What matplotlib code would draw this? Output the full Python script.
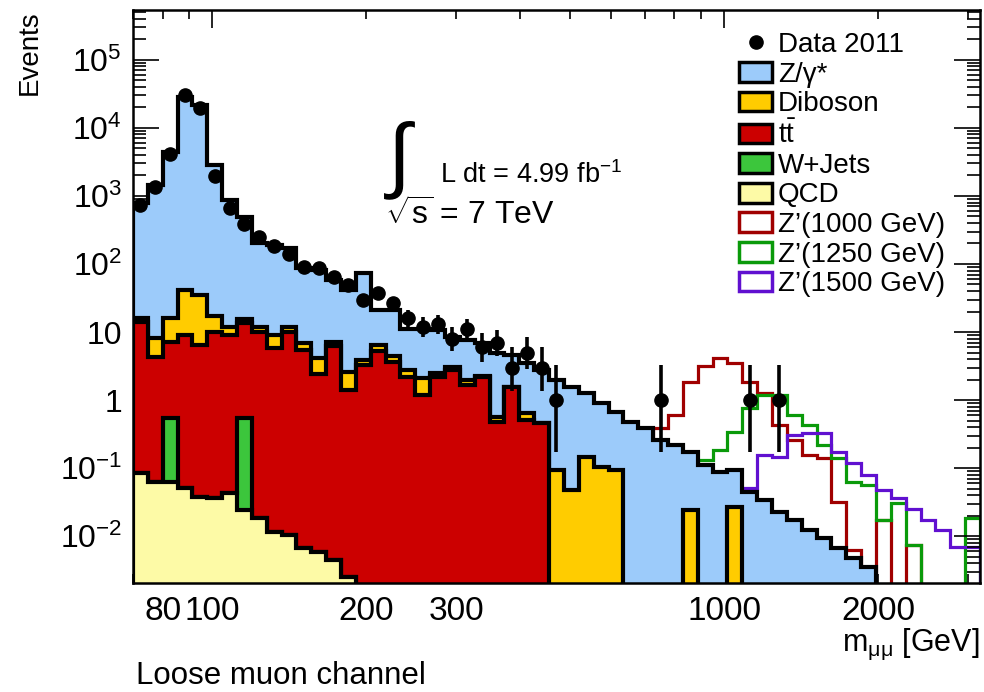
import numpy as np
import matplotlib
matplotlib.use('Agg')
import matplotlib.pyplot as plt
from matplotlib.patches import Patch
from matplotlib.lines import Line2D
from matplotlib.ticker import FixedLocator, FixedFormatter, FuncFormatter, LogLocator, NullFormatter

plt.rcParams['font.family'] = ['Liberation Sans', 'DejaVu Sans']
plt.rcParams['mathtext.fontset'] = 'custom'
plt.rcParams['mathtext.rm'] = 'Liberation Sans'
plt.rcParams['mathtext.it'] = 'Liberation Sans:italic'
plt.rcParams['mathtext.bf'] = 'Liberation Sans:bold'

# 57 log-uniform mass bins, 70 GeV .. 10^3.5 GeV
edges = np.geomspace(70.0, 10 ** 3.5, 58)

z_gamma = [774, 1442, 4424, 28560, 21765, 2843, 861, 475, 192, 181,
           160, 80.4, 77.5, 51.1, 38.9, 69.9, 14.7, 16.7, 8.3, 9.0,
           8.2, 5.38, 5.66, 4.64, 4.35, 3.04, 2.86, 2.30, 1.88, 1.50,
           1.125, 0.797, 0.573, 0.475, 0.388, 0.258, 0.218, 0.148, 0.111, 0.0874,
           0.0668, 0.0444, 0.0338, 0.0225, 0.0172, 0.0123, 0.00935, 0.00667, 0.00475, 0.0035,
           0, 0, 0, 0, 0, 0, 0]
diboson = [2.1, 3.87, 8.97, 32.5, 28.6, 7.2, 2.87, 1.9, 1.9, 3.21,
           1.9, 1.45, 1.74, 0.91, 1.18, 0.6, 1.18, 0.82, 0.58, 0.93,
           0.31, 0.30, 0.31, 0.05, 0.087, 0, 0.136, 0, 0.0935, 0.0475,
           0.145, 0.103, 0.0935, 0, 0, 0, 0, 0.0241, 0, 0,
           0.0267, 0, 0, 0, 0, 0, 0, 0, 0, 0,
           0, 0, 0, 0, 0, 0, 0]
ttbar = [13.9, 4.23, 6.6, 8.98, 6.40, 9.96, 8.99, 13.0, 9.98, 5.81,
         9.99, 5.43, 2.40, 6.22, 1.40, 3.27, 5.26, 3.62, 2.18, 1.18,
         2.18, 2.76, 1.66, 2.18, 0.475, 1.55, 0.508, 0.459] + [0] * 29
wjets = [0, 0, 0.48, 0, 0, 0, 0, 0.52] + [0] * 49
qcd = [0.084, 0.062, 0.062, 0.051, 0.0375, 0.036, 0.043, 0.024, 0.0184, 0.0115,
       0.0103, 0.0067, 0.0058, 0.0044, 0.0025] + [0] * 42

data = [738, 1370, 4150, 30500, 19500, 1990, 673, 384, 252, 181,
        138, 91, 87, 65, 49, 30, 37, 27, 16, 12,
        13, 8, 11, 6, 7, 3, 5, 3, 1, 0,
        0, 0, 0, 0, 0, 1, 0, 0, 0, 0,
        0, 1, 0, 1] + [0] * 13

zp1000 = [0] * 32 + [0.1, 0.17, 0.25, 0.388, 0.602, 1.84, 3.16, 4.15, 3.50, 1.84,
                     1.27, 0.429, 0.258, 0.155, 0.140, 0.0316, 0.0062, 0.003, 0.0172, 0,
                     0.0074, 0, 0, 0, 0]
zp1250 = [0] * 37 + [0.1, 0.131, 0.184, 0.338, 0.762, 1.18, 1.18, 0.602, 0.429, 0.218,
                     0.140, 0.0622, 0.0562, 0.0172, 0.0306, 0.0074, 0, 0, 0, 0.0184]
zp1500 = [0] * 39 + [0.02, 0.04, 0.0508, 0.155, 0.145, 0.306, 0.327, 0.327, 0.172, 0.119,
                     0.0789, 0.0475, 0.0362, 0.0249, 0.0172, 0.0123, 0.0069, 0.0069]

x_major = [100, 1000]
x_labels = [80, 100, 200, 300, 1000, 2000]
y_major = [1e-2, 1e-1, 1, 10, 1e2, 1e3, 1e4, 1e5]
y_labels = ['$10^{-2}$', '$10^{-1}$', '1', '10', '$10^{2}$', '$10^{3}$', '$10^{4}$', '$10^{5}$']

W, H = 984, 692
tiny = 1e-6


def px(x, y):
    return x / W, 1 - y / H


def floor(v):
    v = np.asarray(v, dtype=float)
    return np.where(v > 0, v, tiny)


fig = plt.figure(figsize=(W / 100, H / 100), dpi=100)
ax = fig.add_axes([133 / W, 1 - 583 / H, 847 / W, 573 / H])
ax.set_xscale('log')
ax.set_yscale('log')

# signal lines go underneath the stack (hidden by the fills)
for vals, col in [(zp1000, '#a00000'), (zp1250, '#0a9a0a'), (zp1500, '#6010d0')]:
    ax.stairs(floor(vals), edges, baseline=tiny, fill=False, color=col, linewidth=2.3, zorder=1)

# stacked backgrounds
cum_qcd = np.asarray(qcd, dtype=float)
cum_w = cum_qcd + np.asarray(wjets)
cum_tt = cum_w + np.asarray(ttbar)
cum_dib = cum_tt + np.asarray(diboson)
cum_z = cum_dib + np.asarray(z_gamma)
stack = [(cum_z, '#9ccbfa'), (cum_dib, '#ffcc00'), (cum_tt, '#cc0000'),
         (cum_w, '#3cc63c'), (cum_qcd, '#fdfaa6')]
for vals, col in stack:
    ax.stairs(floor(vals), edges, baseline=tiny, fill=True, facecolor=col,
              edgecolor='black', linewidth=3.0, joinstyle='miter', zorder=2)

# data with asymmetric poisson errors
centers = np.sqrt(edges[:-1] * edges[1:])
n = np.asarray(data, dtype=float)
m = n > 0
nn = n[m]
err_lo = nn - nn * (1 - 1 / (9 * nn) - 1 / (3 * np.sqrt(nn))) ** 3
err_hi = np.sqrt(nn + 0.75) + 1
ax.errorbar(centers[m], nn, yerr=[err_lo, err_hi], fmt='o', color='black',
            ms=9.5, elinewidth=2.6, capsize=0, zorder=5)

ax.set_xlim(70, 10 ** 3.5)
ax.set_ylim(2.05e-3, 5.4e5)

ax.xaxis.set_major_locator(FixedLocator(x_major))
ax.xaxis.set_major_formatter(FixedFormatter([str(v) for v in x_major]))
ax.xaxis.set_minor_locator(LogLocator(base=10, subs=np.arange(2, 10), numticks=20))
ax.xaxis.set_minor_formatter(FuncFormatter(
    lambda v, p: str(int(round(v))) if int(round(v)) in x_labels else ''))
ax.yaxis.set_major_locator(FixedLocator(y_major))
ax.yaxis.set_major_formatter(FixedFormatter(y_labels))
ax.yaxis.set_minor_locator(LogLocator(base=10, subs=np.arange(2, 10), numticks=20))
ax.yaxis.set_minor_formatter(NullFormatter())

ax.tick_params(which='both', direction='in', top=True, right=True, width=1.2, colors='black')
ax.tick_params(axis='x', which='major', length=13, pad=9, labelsize=24)
ax.tick_params(axis='x', which='minor', length=6.5, pad=9, labelsize=24)
ax.tick_params(axis='y', which='major', length=19, pad=8, labelsize=23)
ax.tick_params(axis='y', which='minor', length=9.5)
for s in ax.spines.values():
    s.set_linewidth(1.8)
    s.set_zorder(6)

# legend
handles = [
    Line2D([], [], marker='o', color='black', linestyle='none', ms=9.5),
    Patch(facecolor='#9ccbfa', edgecolor='black', linewidth=2.5),
    Patch(facecolor='#ffcc00', edgecolor='black', linewidth=2.5),
    Patch(facecolor='#cc0000', edgecolor='black', linewidth=2.5),
    Patch(facecolor='#3cc63c', edgecolor='black', linewidth=2.5),
    Patch(facecolor='#fdfaa6', edgecolor='black', linewidth=2.5),
    Patch(facecolor='white', edgecolor='#a00000', linewidth=2.5),
    Patch(facecolor='white', edgecolor='#0a9a0a', linewidth=2.5),
    Patch(facecolor='white', edgecolor='#6010d0', linewidth=2.5),
]
labels = ['Data 2011', 'Z/\u03b3*', 'Diboson', r'$\mathrm{t}\bar{\mathrm{t}}$', 'W+Jets', 'QCD',
          'Z\u2019(1000 GeV)', 'Z\u2019(1250 GeV)', 'Z\u2019(1500 GeV)']
leg = fig.legend(handles, labels, loc='upper left', bbox_to_anchor=px(739, 32),
                 frameon=False, fontsize=20, handlelength=1.2, handleheight=0.72,
                 handletextpad=0.2, labelspacing=0.13, borderaxespad=0, borderpad=0)
leg.set_zorder(10)

fig.text(*px(388, 181), '\u222b', fontsize=60, ha='left', va='baseline')
fig.text(*px(440, 183), r'L dt = 4.99 fb$^{\mathregular{-1}}$', fontsize=19.5, ha='left', va='baseline')
fig.text(*px(385, 225), r'$\sqrt{\mathrm{s}}$ = 7 TeV', fontsize=23, ha='left', va='baseline')

fig.text(*px(30, 10), 'Events', rotation=90, fontsize=20, ha='center', va='top')
fig.text(*px(980, 651), r'm$_{\mathregular{\mu\mu}}$ [GeV]', fontsize=22, ha='right', va='baseline')
fig.text(*px(136, 684), 'Loose muon channel', fontsize=22.5, ha='left', va='baseline')

fig.savefig('out.png', dpi=100)
